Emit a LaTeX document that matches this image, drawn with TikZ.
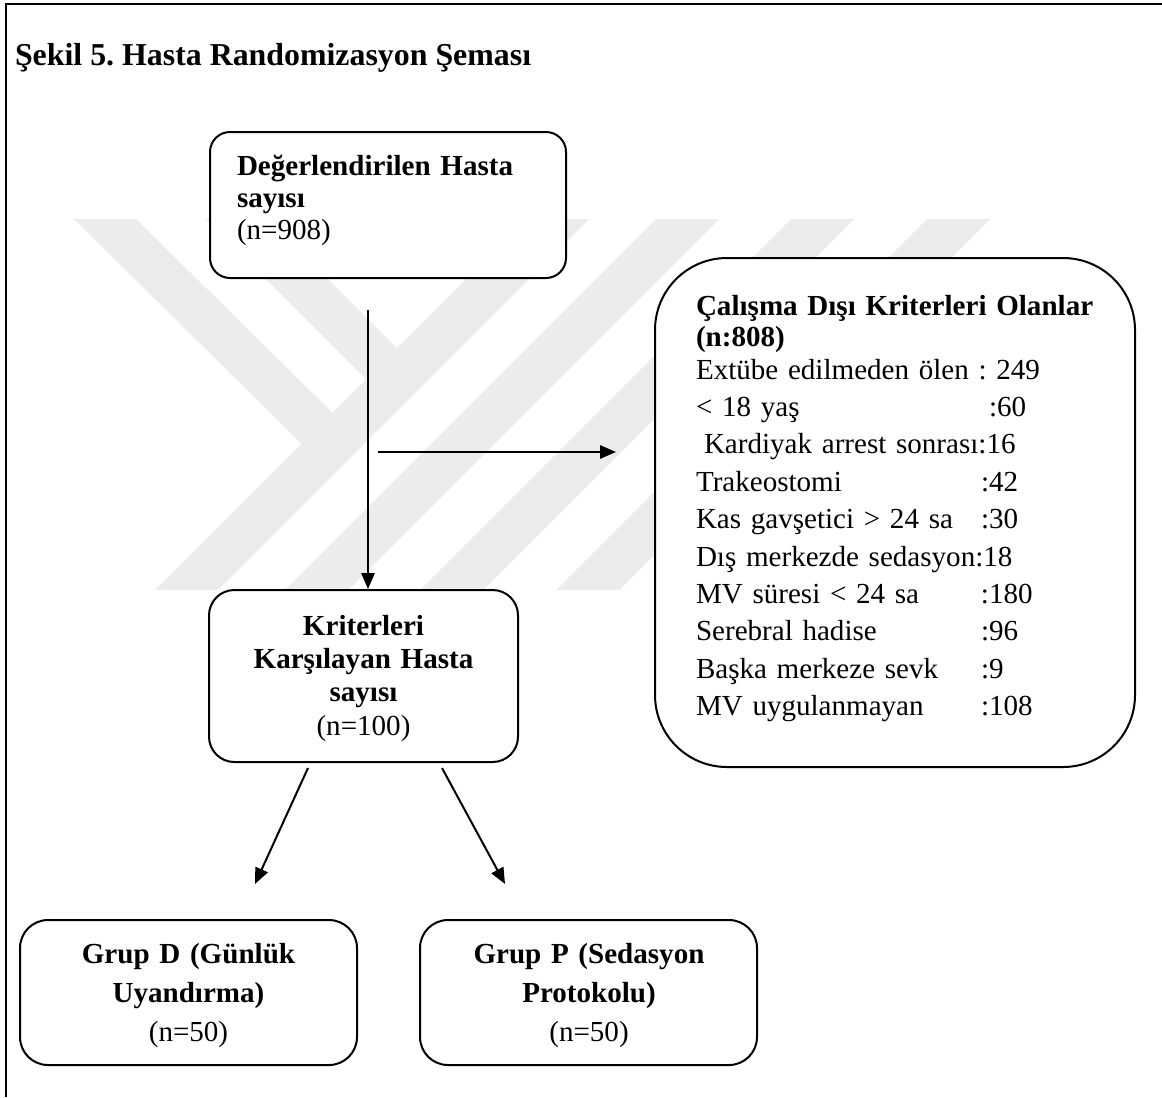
\documentclass[tikz,border=0pt]{standalone}
\usepackage{fontspec}
\setmainfont{Liberation Serif}
\usetikzlibrary{arrows.meta}
\definecolor{wm}{RGB}{236,236,236}
\newcommand{\bodyfont}[1]{\fontsize{21.8pt}{#1}\selectfont}
\frenchspacing
\begin{document}
\begin{tikzpicture}[x=0.75pt,y=-0.75pt,
  box/.style={draw, line width=1.5pt, fill=white, inner sep=0pt},
  txt/.style={inner sep=0pt, outer sep=0pt},
  arr/.style={line width=1.5pt, -{Triangle[length=12pt,width=10pt]}},
  wmband/.style={fill=wm, draw=none}
]
\useasboundingbox (0,0) rectangle (1162,1097);
% watermark
\fill[wmband] (74,219) -- (136,219) -- (350,430) -- (319,461) -- cycle;
\fill[wmband] (206,219) -- (268,219) -- (414.5,365.5) -- (383.5,396.5) -- cycle;
\fill[wmband] (526,219) -- (589,219) -- (218,590) -- (155,590) -- cycle;
\fill[wmband] (656,219) -- (719,219) -- (348,590) -- (285,590) -- cycle;
\fill[wmband] (791,219) -- (854,219) -- (483,590) -- (420,590) -- cycle;
\fill[wmband] (927,219) -- (990,219) -- (619,590) -- (556,590) -- cycle;
% frame
\draw[line width=2pt] (6,1097) -- (6,4) -- (1162,4);
% title
\node[txt, anchor=base west, font=\fontsize{23.9pt}{28pt}\selectfont\bfseries] (title) at (15,65) {Şekil 5. Hasta Randomizasyon Şeması};
% boxes
\node[box, rounded corners=15pt, minimum width=267pt, minimum height=109.5pt] (eval) at (388,205) {};
\node[box, rounded corners=54pt, minimum width=360pt, minimum height=381.75pt] (excl) at (895,512.5) {};
\node[box, rounded corners=19pt, minimum width=231.75pt, minimum height=129pt] (krit) at (363.5,676) {};
\node[box, rounded corners=21pt, minimum width=252.75pt, minimum height=108.75pt] (grd) at (188.5,992.5) {};
\node[box, rounded corners=21pt, minimum width=252.75pt, minimum height=108.75pt] (grp) at (588.5,992.5) {};
% texts
\node[txt, anchor=base west, text width=300pt, align=left, font=\bodyfont{24pt}] (evalt) at (237,175)
  {\textbf{Değerlendirilen Hasta}\\\textbf{sayısı}\\(n=908)};
\node[txt, anchor=base west, text width=320pt, align=left, font=\bodyfont{23.25pt}\bfseries] (exclh) at (696,315)
  {Çalışma Dışı Kriterleri Olanlar\\(n:808)};
\node[txt, anchor=base west, text width=320pt, align=left, font=\bodyfont{28.05pt}] (excll) at (696,379)
  {Extübe edilmeden ölen : 249\\
   \makebox[219.75pt][l]{< 18 yaş}:60\\
   \hspace*{6pt}Kardiyak arrest sonrası:16\\
   \makebox[213.75pt][l]{Trakeostomi}:42\\
   \makebox[213.75pt][l]{Kas gavşetici > 24 sa}:30\\
   Dış merkezde sedasyon:18\\
   \makebox[213.75pt][l]{MV süresi < 24 sa}:180\\
   \makebox[213.75pt][l]{Serebral hadise}:96\\
   \makebox[213.75pt][l]{Başka merkeze sevk}:9\\
   \makebox[213.75pt][l]{MV uygulanmayan}:108};
\node[txt, anchor=base, text width=230pt, align=center, font=\bodyfont{25pt}] (kritt) at (363.5,635)
  {\textbf{Kriterleri}\\\textbf{Karşılayan Hasta}\\\textbf{sayısı}\\(n=100)};
\node[txt, anchor=base, text width=250pt, align=center, font=\bodyfont{29.6pt}] (grdt) at (188.5,963)
  {\textbf{Grup D (Günlük}\\\textbf{Uyandırma)}\\(n=50)};
\node[txt, anchor=base, text width=250pt, align=center, font=\bodyfont{29.6pt}] (grpt) at (589,963)
  {\textbf{Grup P (Sedasyon}\\\textbf{Protokolu)}\\(n=50)};
% connectors
\coordinate (v1) at (368,310);
\draw[arr] (v1) -- (v1 |- krit.north);
\coordinate (h1) at (378,452);
\coordinate (h2) at (616,452);
\draw[arr] (h1) -- (h2);
\coordinate (d1s) at (308,768);
\coordinate (d1e) at (255,884);
\coordinate (d2s) at (442,768);
\coordinate (d2e) at (505,884);
\draw[arr] (d1s) -- (d1e);
\draw[arr] (d2s) -- (d2e);
\end{tikzpicture}
\end{document}
